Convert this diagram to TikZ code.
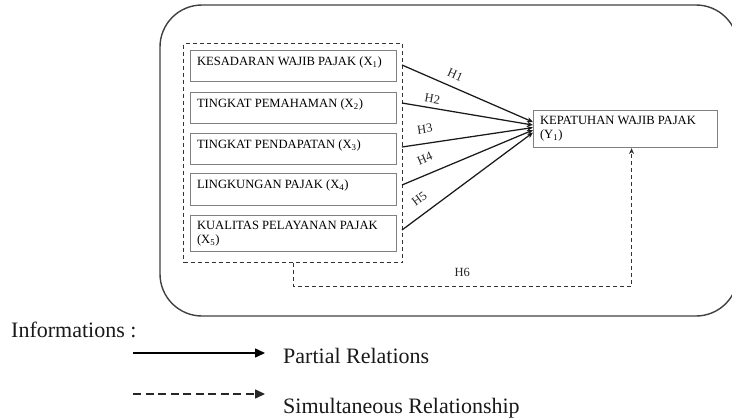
\documentclass[tikz,border=0pt]{standalone}
\usepackage{fontspec}
\setmainfont{Liberation Serif}
\usetikzlibrary{arrows.meta,positioning}

\newcommand{\boxtxt}[2]{\parbox[c][#1][t]{193pt}{#2}}

\begin{document}
\begin{tikzpicture}[x=1pt,y=-1pt,
    varbox/.style={draw=black!50, line width=1.1pt, inner xsep=6.5pt, inner ysep=6pt,
      font=\fontsize{12.6}{14}\selectfont, text=black},
    grpbox/.style={draw=black!80, line width=1.3pt, dash pattern=on 4pt off 3pt,
      minimum width=219pt, minimum height=219pt, inner sep=0pt},
    partial/.style={black!90, line width=1.25pt, -{Stealth[length=6pt,width=5pt]}},
    simul/.style={black!80, line width=1.3pt, dash pattern=on 4pt off 3pt,
      -{Stealth[length=6pt,width=5pt]}},
    hlbl/.style={font=\fontsize{12.5}{14}\selectfont, text=black!85, inner sep=1pt},
    legtxt/.style={font=\fontsize{22}{26}\selectfont, text=black!90, inner sep=0pt},
    legsolid/.style={black, line width=1.6pt, -{Triangle[length=10pt,width=9pt]}},
    legdash/.style={black!85, line width=1.6pt, dash pattern=on 8pt off 4.5pt,
      -{Triangle[length=10pt,width=9pt]}}]
  \useasboundingbox (0,0) rectangle (732,418);

  % frame
  \draw[black!75, line width=1.4pt, rounded corners=42pt] (160,5) rectangle (738,316);

  % independent variables
  \node[grpbox, anchor=north west] at (183,43) (grp) {};
  \node[varbox, anchor=north west] at (190,50) (x1)
    {\boxtxt{19pt}{KESADARAN WAJIB PAJAK (X\textsubscript{1})}};
  \node[varbox, anchor=north west] at (190,92) (x2)
    {\boxtxt{19pt}{TINGKAT PEMAHAMAN (X\textsubscript{2})}};
  \node[varbox, anchor=north west] at (190,133) (x3)
    {\boxtxt{19pt}{TINGKAT PENDAPATAN (X\textsubscript{3})}};
  \node[varbox, anchor=north west] at (190,173) (x4)
    {\boxtxt{20pt}{LINGKUNGAN PAJAK (X\textsubscript{4})}};
  \node[varbox, anchor=north west] at (190,215) (x5)
    {\boxtxt{24pt}{KUALITAS PELAYANAN PAJAK\\(X\textsubscript{5})}};

  % dependent variable
  \node[varbox, anchor=north west] at (533,110) (y1)
    {\parbox[c][25pt][t]{171pt}{KEPATUHAN WAJIB PAJAK\\(Y\textsubscript{1})}};

  \coordinate (s1) at (402,65);
  \coordinate (s2) at (402,103);
  \coordinate (s3) at (402,147);
  \coordinate (s4) at (402,185);
  \coordinate (s5) at (402,230);

  \draw[partial] (s1) -- ([yshift=7pt]y1.west) node[hlbl, pos=0.37, sloped, above=6.5pt] {H1};
  \draw[partial] (s2) -- ([yshift=4pt]y1.west) node[hlbl, pos=0.22, sloped, above=3.5pt] {H2};
  \draw[partial] (s3) -- ([yshift=1.5pt]y1.west) node[hlbl, pos=0.19, sloped, above=8.5pt] {H3};
  \draw[partial] (s4) -- ([yshift=-1pt]y1.west) node[hlbl, pos=0.22, sloped, above=10pt] {H4};
  \draw[partial] (s5) -- ([yshift=-3.5pt]y1.west) node[hlbl, pos=0.2, sloped, above=9pt] {H5};

  % simultaneous
  \draw[simul] (grp.south) -- ++(0,23) -| ([xshift=6pt]y1.south)
    node[hlbl, pos=0.25, above=8pt] {H6};

  % legend
  \node[legtxt, anchor=base west] at (11,337) (info) {Informations :};
  \coordinate (la) at (133,353);
  \coordinate (lb) at (265,353);
  \coordinate (lc) at (133,394);
  \coordinate (ld) at (265,394);
  \draw[legsolid] (la) -- (lb);
  \draw[legdash] (lc) -- (ld);
  \node[legtxt, anchor=base west] at (283,363) (part) {Partial Relations};
  \node[legtxt, anchor=base west] at (283,413) (simu) {Simultaneous Relationship};
\end{tikzpicture}
\end{document}
